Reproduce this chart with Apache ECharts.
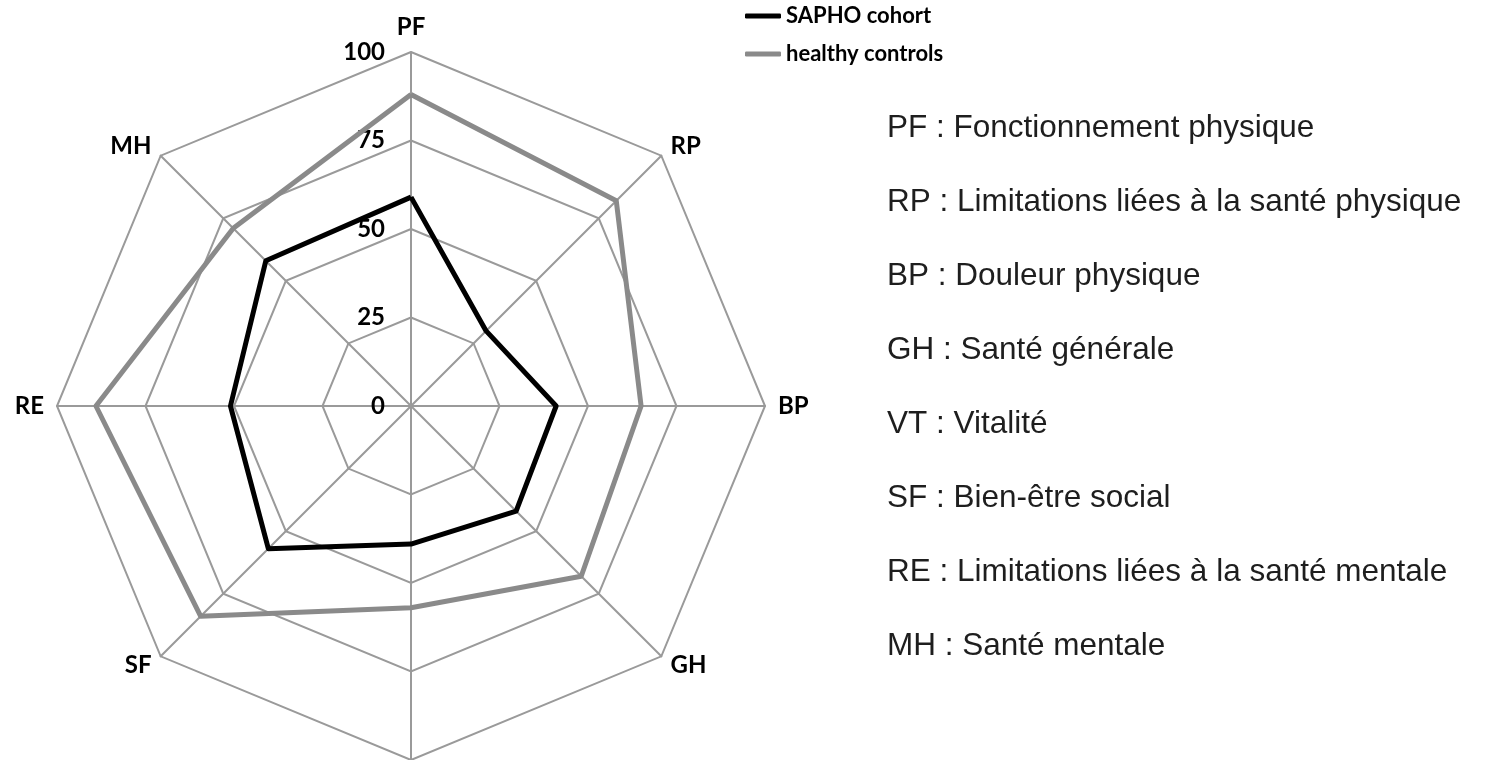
<!DOCTYPE html>
<html>
<head>
<meta charset="utf-8">
<script src="https://cdn.jsdelivr.net/npm/echarts@6/dist/echarts.min.js"></script>
<style>
  html, body { margin: 0; padding: 0; background: #fff; }
  #chart { width: 1487px; height: 760px; }
</style>
</head>
<body>
<div id="chart"></div>
<script>
// SF-36 domains, clockwise from the top
const domains = ['PF', 'RP', 'BP', 'GH', 'VT', 'SF', 'RE', 'MH']
const saphoValues = [59, 30, 41, 42, 39, 57, 51, 58]
const controlValues = [88, 82, 65, 68, 57, 84, 89, 71]
const seriesNames = ['SAPHO cohort', 'healthy controls']
const descriptions = [
  'PF : Fonctionnement physique',
  'RP : Limitations liées à la santé physique',
  'BP : Douleur physique',
  'GH : Santé générale',
  'VT : Vitalité',
  'SF : Bien-être social',
  'RE : Limitations liées à la santé mentale',
  'MH : Santé mentale'
]

// echarts lays radar axes out counter-clockwise, so walk the lists backwards after PF
const order = domains.map((d, i) => (domains.length - i) % domains.length)
const pick = arr => order.map(i => arr[i])

const chart = echarts.init(document.getElementById('chart'))
const gridColor = '#9a9a9a'
const boldFont = { fontFamily: 'Lato', fontWeight: 'bold', fontSize: 24, color: '#000' }

const legendBase = {
  orient: 'vertical',
  left: 745,
  padding: 0,
  itemWidth: 36,
  itemHeight: 5,
  icon: 'roundRect',
  textStyle: Object.assign({}, boldFont, { fontSize: 22, padding: [12, 0, 0, 0] })
}

const option = {
  animation: false,
  backgroundColor: '#fff',
  title: {
    text: descriptions.join('\n'),
    left: 882,
    top: 86,
    textStyle: {
      fontFamily: 'Liberation Sans',
      fontSize: 31.5,
      fontWeight: 'normal',
      color: '#1e1e1e',
      lineHeight: 74
    }
  },
  legend: [
    Object.assign({}, legendBase, { top: 5, data: [seriesNames[0]] }),
    Object.assign({}, legendBase, { top: 43, data: [seriesNames[1]] })
  ],
  radar: {
    center: [411, 406],
    radius: 354,
    startAngle: 90,
    shape: 'polygon',
    splitNumber: 4,
    nameGap: 13,
    axisName: boldFont,
    splitArea: { show: false },
    splitLine: { lineStyle: { color: gridColor, width: 2 } },
    axisLine: { lineStyle: { color: gridColor, width: 2 } },
    axisLabel: { show: false },
    // only the first axis carries the 0..100 scale
    indicator: pick(domains).map((d, i) => ({
      name: d,
      min: 0,
      max: 100,
      axisLabel: i === 0
        ? Object.assign({ show: true, margin: 26, padding: [10, 0, 0, 0] }, boldFont)
        : { show: false }
    }))
  },
  series: [{
    type: 'radar',
    symbol: 'none',
    data: [
      {
        name: seriesNames[0],
        value: pick(saphoValues),
        lineStyle: { color: '#000', width: 5 },
        itemStyle: { color: '#000' }
      },
      {
        name: seriesNames[1],
        value: pick(controlValues),
        lineStyle: { color: '#8a8a8a', width: 5 },
        itemStyle: { color: '#8a8a8a' }
      }
    ]
  }]
}
chart.setOption(option)
</script>
</body>
</html>
